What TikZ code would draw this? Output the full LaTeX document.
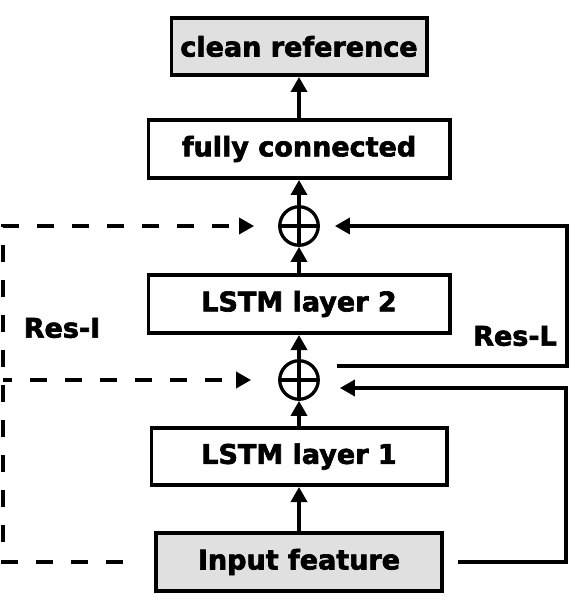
\documentclass[tikz,border=0pt]{standalone}
\usepackage{fontspec}
\setmainfont{DejaVu Sans}
\newfontfamily\heavyfont[FakeBold=2.4]{DejaVu Sans Bold}
\usetikzlibrary{arrows.meta,calc}
\definecolor{boxgray}{RGB}{224,224,224}
\begin{document}
\begin{tikzpicture}[x=1pt,y=-1pt,
  box/.style={draw, line width=3.6pt, inner sep=0pt, font=\heavyfont\fontsize{27}{32}\selectfont},
  graybox/.style={box, fill=boxgray},
  plusnode/.style={draw, circle, line width=3.3pt, minimum size=38.5pt, inner sep=0pt,
    path picture={\draw[line width=3.1pt] (path picture bounding box.north) -- (path picture bounding box.south)
      (path picture bounding box.west) -- (path picture bounding box.east);}},
  tip/.style={-{Triangle[length=15pt,width=16pt]}},
  arr/.style={line width=3.4pt, tip},
  darr/.style={line width=3.5pt, dash pattern=on 17pt off 18pt, tip},
  lbl/.style={font=\heavyfont\fontsize{27}{32}\selectfont, inner sep=0pt}]
\useasboundingbox (0,0) rectangle (576,612);
\node[graybox, minimum width=255.4pt, minimum height=57.4pt] (clean) at (299,46.5) {clean reference};
\node[box, minimum width=301.4pt, minimum height=58.4pt] (fc) at (299,149) {fully connected};
\node[plusnode] (p1) at (299,226) {};
\node[box, minimum width=301.4pt, minimum height=58.4pt] (l2) at (299,304) {LSTM layer 2};
\node[plusnode] (p2) at (299,380) {};
\node[box, minimum width=295.4pt, minimum height=57.4pt] (l1) at (299,456.5) {LSTM layer 1};
\node[graybox, minimum width=286.4pt, minimum height=58.4pt] (in) at (299,562) {Input feature};
\node[lbl] (resI) at (62,328) {Res-I};
\node[lbl] (resL) at (515,336) {Res-L};
% main chain
\draw[arr] (in) -- (l1);
\draw[arr] (l1) -- (p2);
\draw[arr] (p2) -- (l2);
\draw[arr] (l2) -- (p1);
\draw[arr] (p1) -- (fc);
\draw[arr] (fc) -- (clean);
% right connectors
\coordinate (ra) at (566,388);
\coordinate (rb) at (567,366);
\coordinate (rc) at (567,226);
\draw[arr] ([xshift=14pt]in.east) -| (ra) -- ([xshift=20pt]p2.east |- ra);
\draw[arr] ([xshift=17pt]p2.east |- rb) -- (rb) -- (rc) -- ([xshift=15pt]p1.east);
% left dashed connectors
\coordinate (la) at (3,226);
\draw[darr] ([xshift=-31pt]in.west) -| (la) -- ([xshift=-24pt]p1.west);
\draw[darr, dash phase=8pt] (la |- p2.west) -- ([xshift=-27pt]p2.west);
\end{tikzpicture}
\end{document}
